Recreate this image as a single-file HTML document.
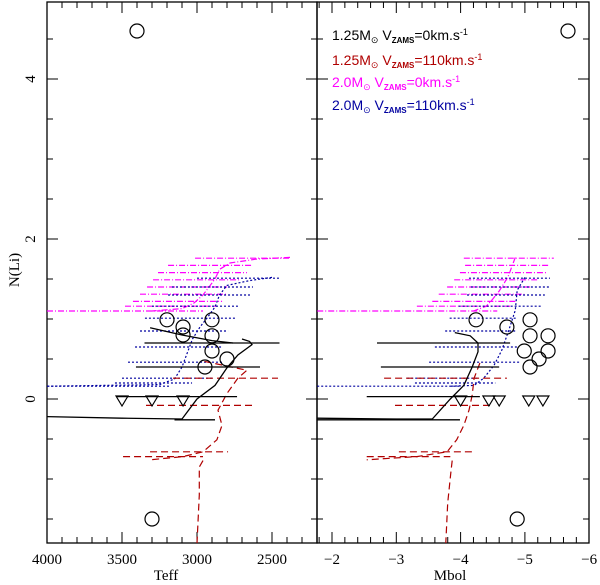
<!DOCTYPE html>
<html><head><meta charset="utf-8"><style>
html,body{margin:0;padding:0;background:#fff;}
svg{display:block;font-family:"Liberation Serif",serif;}
</style></head><body>
<svg id="chart" width="600" height="585" viewBox="0 0 600 585" xmlns="http://www.w3.org/2000/svg">
<defs>
<clipPath id="clipL"><rect x="47" y="2" width="270" height="541"/></clipPath>
<clipPath id="clipR"><rect x="317" y="2" width="272" height="541"/></clipPath>
</defs>
<g id="axes"></g>
<g id="plotL" clip-path="url(#clipL)"></g>
<g id="plotR" clip-path="url(#clipR)"></g>
<g id="legend" font-size="14" font-family="Liberation Sans, sans-serif">
<text x="332" y="40" fill="#000">1.25M<tspan font-size="9" dy="3">⊙</tspan><tspan dy="-3"> V</tspan><tspan font-size="8" font-weight="bold" dy="3">ZAMS</tspan><tspan dy="-3">=0km.s</tspan><tspan font-size="9" dy="-5">-1</tspan></text>
<text x="332" y="65" fill="#b00000">1.25M<tspan font-size="9" dy="3">⊙</tspan><tspan dy="-3"> V</tspan><tspan font-size="8" font-weight="bold" dy="3">ZAMS</tspan><tspan dy="-3">=110km.s</tspan><tspan font-size="9" dy="-5">-1</tspan></text>
<text x="332" y="87" fill="#ff00ff">2.0M<tspan font-size="9" dy="3">⊙</tspan><tspan dy="-3"> V</tspan><tspan font-size="8" font-weight="bold" dy="3">ZAMS</tspan><tspan dy="-3">=0km.s</tspan><tspan font-size="9" dy="-5">-1</tspan></text>
<text x="332" y="110" fill="#0000a0">2.0M<tspan font-size="9" dy="3">⊙</tspan><tspan dy="-3"> V</tspan><tspan font-size="8" font-weight="bold" dy="3">ZAMS</tspan><tspan dy="-3">=110km.s</tspan><tspan font-size="9" dy="-5">-1</tspan></text>
</g>
</svg>
<script>
// ---- data: left panel (Teff) ----
const circlesL_T = [3400, 3300, 3200, 3093, 3093, 2900, 2900, 2900, 2800, 2947];
const circlesL_N = [4.6, -1.5, 0.99, 0.9, 0.8, 0.99, 0.79, 0.6, 0.5, 0.4];
const triL_T = [3500, 3300, 3093];
const triL_N = [0, 0, 0];
// ---- data: right panel (Mbol) ----
const circlesR_M = [-5.67, -4.88, -4.24, -4.72, -5.08, -5.08, -5.36, -4.99, -5.36, -5.22, -5.08];
const circlesR_N = [4.6, -1.5, 0.99, 0.9, 0.99, 0.79, 0.79, 0.6, 0.6, 0.5, 0.4];
const triR_M = [-4.0, -4.44, -4.6, -5.06, -5.28];
const triR_N = [0, 0, 0, 0, 0];

const blackLevels = [0.70, 0.40, 0.03, -0.26];
const blackL_from = [3350, 3407, 3533, 3150];
const blackL_to = [2450, 2580, 2733, 2880];
const blackR_from = [-2.70, -2.76, -2.54, -1.77];
const blackR_to = [-4.77, -4.60, -4.30, -3.99];

const redLevels = [0.26, -0.08, -0.66, -0.72];
const redL_from = [3160, 3340, 3313, 3493];
const redL_to = [2460, 2613, 2793, 2960];
const redR_from = [-2.81, -2.98, -3.04, -2.54];
const redR_to = [-4.72, -4.52, -4.21, -3.84];

const blueLevels = [1.51, 1.40, 1.30, 1.16, 1.01, 0.85, 0.65, 0.46, 0.26, 0.20, 0.16];
const blueL_from = [3000, 3167, 3193, 3300, 3347, 3380, 3413, 3460, 3500, 3547, 4000];
const blueL_to = [2447, 2627, 2647, 2727, 2747, 2793, 2827, 2827, 2893, 3033, 3180];
const blueR_from = [-4.13, -4.16, -4.10, -3.97, -3.83, -3.76, -3.60, -3.51, -3.17, -3.29, -1.77];
const blueR_to = [-5.39, -5.39, -5.31, -5.26, -4.88, -4.85, -4.91, -4.91, -4.26, -4.54, -3.99];

const magLevels = [1.76, 1.67, 1.58, 1.49, 1.40, 1.31, 1.22, 1.16, 1.10];
const magL_from = [3013, 3193, 3260, 3293, 3333, 3380, 3427, 3480, 4000];
const magL_to = [2380, 2627, 2667, 2713, 2800, 2800, 2833, 2867, 2960];
const magR_from = [-4.05, -4.07, -3.99, -3.90, -3.79, -3.66, -3.56, -3.32, -1.77];
const magR_to = [-5.45, -5.39, -5.34, -5.19, -5.08, -4.99, -4.88, -4.77, -4.57];

const blackCurveL_T = [4000, 3500, 3100, 3000, 2880, 2800, 2727, 2633, 2650, 2700];
const blackCurveL_N = [-0.22, -0.24, -0.25, 0.0, 0.17, 0.39, 0.55, 0.68, 0.72, 0.75];
const blackCurve2L_T = [3313, 3100, 2900, 2760];
const blackCurve2L_N = [0.89, 0.80, 0.73, 0.70];
const blackCurveR_M = [-1.77, -3.0, -3.56, -3.84, -4.05, -4.18, -4.27, -4.27, -4.15, -3.91];
const blackCurveR_N = [-0.24, -0.25, -0.25, 0.0, 0.17, 0.4, 0.59, 0.7, 0.79, 0.83];

const redCurveL_T = [2950, 2667, 2727, 2800, 2860, 2833, 2867, 2960, 3093, 3313];
const redCurveL_N = [0.47, 0.36, 0.26, 0.07, -0.14, -0.33, -0.51, -0.66, -0.72, -0.76];
const redDropL_T = [2960, 2985, 2985, 3000];
const redDropL_N = [-0.77, -0.85, -1.2, -1.8];
const redCurveR_M = [-4.30, -4.21, -4.18, -4.13, -4.05, -3.94, -3.79, -3.32, -2.54];
const redCurveR_N = [0.45, 0.26, 0.05, -0.14, -0.33, -0.51, -0.66, -0.72, -0.76];
const redDropR_M = [-3.87, -3.85, -3.80, -3.77];
const redDropR_N = [-0.77, -0.9, -1.3, -1.8];

const blueCurveL_T = [2500, 2650, 2800, 2850, 2880, 2930, 2980, 3030, 3060, 3080, 3100, 3150, 3250, 4000];
const blueCurveL_N = [1.52, 1.48, 1.42, 1.30, 1.15, 1.02, 0.90, 0.75, 0.60, 0.50, 0.40, 0.25, 0.18, 0.16];
const blueCurveR_M = [-5.00, -4.88, -4.85, -4.75, -4.64, -4.52, -4.36, -4.21, -3.84];
const blueCurveR_N = [1.52, 1.36, 1.11, 0.86, 0.61, 0.42, 0.26, 0.17, 0.16];

const magCurveL_T = [2380, 2600, 2780, 2850, 2880, 2920, 2960, 3020, 3100, 3300];
const magCurveL_N = [1.77, 1.75, 1.70, 1.62, 1.50, 1.40, 1.30, 1.20, 1.13, 1.10];
const magCurveR_M = [-4.85, -4.80, -4.75, -4.68, -4.60, -4.50, -4.40, -4.20];
const magCurveR_N = [1.77, 1.66, 1.55, 1.45, 1.35, 1.25, 1.16, 1.10];

const teffTicks = [4000, 3500, 3000, 2500];
const mbolTicks = [-2, -3, -4, -5, -6];
const nTicks = [0, 2, 4];

const xL = t => 47 + (4000 - t) * 0.15;
const xR = m => 332 + (-2 - m) * 64.3;
const yN = n => 399 - n * 80;
const NS = "http://www.w3.org/2000/svg";
function mk(tag, attrs, parent) {
  const e = document.createElementNS(NS, tag);
  for (const k in attrs) e.setAttribute(k, attrs[k]);
  parent.appendChild(e);
  return e;
}
const axes = document.getElementById('axes');
const gL = document.getElementById('plotL');
const gR = document.getElementById('plotR');

const fr1 = mk('rect', {x: 47, y: 2, width: 270, height: 541, fill: 'none', stroke: '#000', 'stroke-width': 1.3}, axes);


const fr2 = mk('rect', {x: 317, y: 2, width: 272, height: 541, fill: 'none', stroke: '#000', 'stroke-width': 1.3}, axes);



for (let t = 4000; t >= 2200; t -= 100) {
  const x = xL(t), len = (t % 500 === 0) ? 11 : 6;
  mk('line', {x1: x, x2: x, y1: 543, y2: 543 - len, stroke: '#000'}, axes);
  mk('line', {x1: x, x2: x, y1: 2, y2: 2 + len, stroke: '#000'}, axes);
}
teffTicks.forEach(t => {
  const e = mk('text', {x: xL(t), y: 564, 'font-size': 15, 'text-anchor': 'middle'}, axes);
  
  
  e.textContent = t;
});
for (let i = 0; i <= 21; i++) {
  const m = -1.8 - i * 0.2;
  const x = xR(m);
  if (x < 318 || x > 589) continue;
  const major = Math.abs(m - Math.round(m)) < 0.01;
  const len = major ? 11 : 6;
  mk('line', {x1: x, x2: x, y1: 543, y2: 543 - len, stroke: '#000'}, axes);
  mk('line', {x1: x, x2: x, y1: 2, y2: 2 + len, stroke: '#000'}, axes);
}
mbolTicks.forEach(m => {
  const e = mk('text', {x: xR(m), y: 564, 'font-size': 15, 'text-anchor': 'middle'}, axes);
  
  
  e.textContent = '\u2212' + Math.abs(m);
});
for (let n = -1.5; n <= 4.5; n += 0.5) {
  const y = yN(n), len = (n % 2 === 0) ? 11 : 6;
  [47, 317].forEach(x0 => mk('line', {x1: x0, x2: x0 + len, y1: y, y2: y, stroke: '#000'}, axes));
  [317, 589].forEach(x0 => mk('line', {x1: x0, x2: x0 - len, y1: y, y2: y, stroke: '#000'}, axes));
}
nTicks.forEach(n => {
  const e = mk('text', {x: 30, y: yN(n), 'font-size': 15, 'text-anchor': 'middle', transform: `rotate(-90 30 ${yN(n)})`, dy: 5}, axes);
  
  
  e.textContent = n;
});
const yt = mk('text', {x: 14, y: 270, 'font-size': 15, 'text-anchor': 'middle', transform: 'rotate(-90 14 270)', dy: 5}, axes);


yt.textContent = 'N(Li)';
const xt1 = mk('text', {x: 166, y: 580, 'font-size': 15, 'text-anchor': 'middle'}, axes);


xt1.textContent = 'Teff';
const xt2 = mk('text', {x: 450, y: 580, 'font-size': 15, 'text-anchor': 'middle'}, axes);


xt2.textContent = 'Mbol';

const styles = {
  black: {stroke: '#000', 'stroke-width': 1.3, fill: 'none'},
  red: {stroke: '#b00000', 'stroke-width': 1.2, fill: 'none', 'stroke-dasharray': '7,4'},
  blue: {stroke: '#0000a0', 'stroke-width': 1.2, fill: 'none', 'stroke-dasharray': '2,2'},
  mag: {stroke: '#ff00ff', 'stroke-width': 1.2, fill: 'none', 'stroke-dasharray': '6,2,1,2'}
};
function segs(g, xs, levels, from, to, st, nm) {
  levels.forEach((n, i) => {
    const e = mk('line', Object.assign({x1: xs(from[i]), x2: xs(to[i]), y1: yN(n), y2: yN(n)}, st), g);
    
    
  });
}
function curve(g, xs, X, N, st, nm) {
  const d = X.map((v, i) => (i ? 'L' : 'M') + xs(v).toFixed(1) + ' ' + yN(N[i]).toFixed(1)).join(' ');
  const e = mk('path', Object.assign({d: d}, st), g);
  
  
}
segs(gL, xL, magLevels, magL_from, magL_to, styles.mag, 'magenta-track');
curve(gL, xL, magCurveL_T, magCurveL_N, styles.mag, 'magenta-curve');
segs(gL, xL, blueLevels, blueL_from, blueL_to, styles.blue, 'blue-track');
curve(gL, xL, blueCurveL_T, blueCurveL_N, styles.blue, 'blue-curve');
segs(gL, xL, redLevels, redL_from, redL_to, styles.red, 'red-track');
curve(gL, xL, redCurveL_T, redCurveL_N, styles.red, 'red-curve');
curve(gL, xL, redDropL_T, redDropL_N, styles.red, 'red-drop');
segs(gL, xL, blackLevels, blackL_from, blackL_to, styles.black, 'black-track');
curve(gL, xL, blackCurveL_T, blackCurveL_N, styles.black, 'black-curve');
curve(gL, xL, blackCurve2L_T, blackCurve2L_N, styles.black, 'black-curve');
segs(gR, xR, magLevels, magR_from, magR_to, styles.mag, 'magenta-track');
curve(gR, xR, magCurveR_M, magCurveR_N, styles.mag, 'magenta-curve');
segs(gR, xR, blueLevels, blueR_from, blueR_to, styles.blue, 'blue-track');
curve(gR, xR, blueCurveR_M, blueCurveR_N, styles.blue, 'blue-curve');
segs(gR, xR, redLevels, redR_from, redR_to, styles.red, 'red-track');
curve(gR, xR, redCurveR_M, redCurveR_N, styles.red, 'red-curve');
curve(gR, xR, redDropR_M, redDropR_N, styles.red, 'red-drop');
segs(gR, xR, blackLevels, blackR_from, blackR_to, styles.black, 'black-track');
curve(gR, xR, blackCurveR_M, blackCurveR_N, styles.black, 'black-curve');

function circles(g, xs, X, N) {
  X.forEach((v, i) => {
    const c = mk('circle', {cx: xs(v), cy: yN(N[i]), r: 7, fill: 'none', stroke: '#000', 'stroke-width': 1.2}, g);
    
    
  });
}
function tris(g, xs, X, N) {
  X.forEach((v, i) => {
    const x = xs(v), y = yN(N[i]);
    const p = mk('polygon', {points: `${x-6},${y-3} ${x+6},${y-3} ${x},${y+7}`, fill: 'none', stroke: '#000', 'stroke-width': 1.2}, g);
    
    
  });
}
circles(gL, xL, circlesL_T, circlesL_N);
tris(gL, xL, triL_T, triL_N);
circles(gR, xR, circlesR_M, circlesR_N);
tris(gR, xR, triR_M, triR_N);
</script>
</body></html>
